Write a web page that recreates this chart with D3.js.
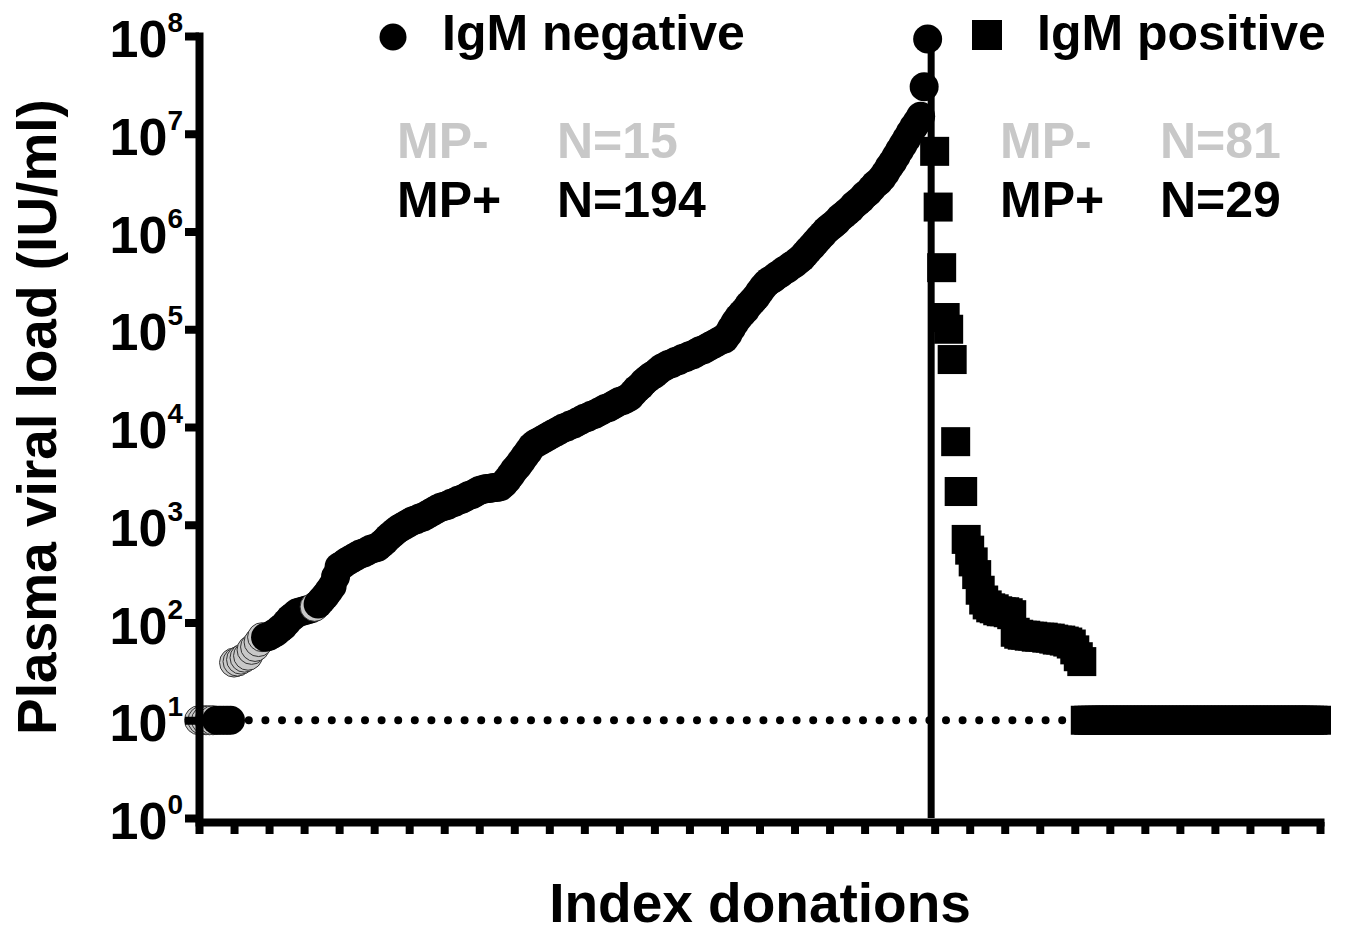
<!DOCTYPE html>
<html>
<head>
<meta charset="utf-8">
<script src="https://cdn.jsdelivr.net/npm/d3@7"></script>
<style>
body { margin: 0; background: #fff; }
svg text { font-family: "Liberation Sans", Arial, sans-serif; font-weight: bold; }
</style>
</head>
<body>
<svg id="chart" width="1345" height="936"></svg>
<script>
// log10 of plasma viral load (IU/ml), sorted, IgM negative index donations
var igmNegLog = [
  1, 1, 1, 1, 1, 1, 1, 1, 1, 1,
  1.59, 1.60, 1.62, 1.64, 1.66, 1.72, 1.75, 1.80, 1.85, 1.85,
  1.86, 1.88, 1.90, 1.93, 1.96, 2.00, 2.04, 2.07, 2.10, 2.11,
  2.12, 2.13, 2.14, 2.16, 2.19, 2.23, 2.27, 2.32, 2.37, 2.47,
  2.57, 2.59, 2.62, 2.64, 2.66, 2.68, 2.70, 2.71, 2.73, 2.75,
  2.76, 2.77, 2.80, 2.83, 2.87, 2.90, 2.93, 2.96, 2.98, 3.00,
  3.02, 3.04, 3.05, 3.07, 3.08, 3.10, 3.12, 3.14, 3.16, 3.18,
  3.19, 3.20, 3.22, 3.23, 3.25, 3.26, 3.28, 3.30, 3.31, 3.33,
  3.35, 3.36, 3.37, 3.37, 3.38, 3.38, 3.39, 3.42, 3.46, 3.51,
  3.56, 3.60, 3.65, 3.70, 3.75, 3.80, 3.83, 3.85, 3.87, 3.89,
  3.91, 3.93, 3.95, 3.97, 3.99, 4.00, 4.02, 4.03, 4.05, 4.07,
  4.09, 4.10, 4.12, 4.13, 4.15, 4.17, 4.19, 4.20, 4.22, 4.24,
  4.26, 4.27, 4.29, 4.31, 4.35, 4.39, 4.42, 4.46, 4.49, 4.52,
  4.54, 4.57, 4.60, 4.62, 4.64, 4.65, 4.67, 4.68, 4.70, 4.71,
  4.73, 4.74, 4.76, 4.78, 4.79, 4.81, 4.83, 4.85, 4.87, 4.89,
  4.90, 4.95, 5.01, 5.07, 5.12, 5.16, 5.20, 5.25, 5.29, 5.33,
  5.38, 5.43, 5.47, 5.50, 5.52, 5.55, 5.57, 5.60, 5.62, 5.65,
  5.67, 5.70, 5.73, 5.77, 5.81, 5.85, 5.89, 5.93, 5.97, 6.01,
  6.04, 6.07, 6.10, 6.14, 6.17, 6.20, 6.23, 6.27, 6.30, 6.33,
  6.37, 6.40, 6.44, 6.48, 6.51, 6.55, 6.60, 6.66, 6.71, 6.77,
  6.83, 6.89, 6.95, 7.01, 7.07, 7.12, 7.18, 7.48, 7.97
];
// which of those were minipool negative (drawn grey)
var igmNegGrey = [0, 1, 2, 3, 4, 10, 11, 12, 13, 14, 15, 16, 17, 18, 33];

// log10 viral load, IgM positive index donations
var igmPosLog = [
  6.82, 6.25, 5.63, 5.12, 5.00, 4.69, 3.85, 3.34, 3.34, 2.85,
  2.74, 2.62, 2.49, 2.33, 2.23, 2.18, 2.15, 2.14, 2.12, 2.11,
  2.11, 2.10, 2.08, 1.90, 1.88, 1.87, 1.87, 1.86, 1.86, 1.85,
  1.85, 1.85, 1.84, 1.84, 1.83, 1.82, 1.82, 1.81, 1.80, 1.78,
  1.72, 1.65, 1.60, 1, 1, 1, 1, 1, 1, 1,
  1, 1, 1, 1, 1, 1, 1, 1, 1, 1,
  1, 1, 1, 1, 1, 1, 1, 1, 1, 1,
  1, 1, 1, 1, 1, 1, 1, 1, 1, 1,
  1, 1, 1, 1, 1, 1, 1, 1, 1, 1,
  1, 1, 1, 1, 1, 1, 1, 1, 1, 1,
  1, 1, 1, 1, 1, 1, 1, 1, 1, 1
];
var posStart = 210;   // first index of IgM positive group
var splitAt = 209;    // divider between the groups
var lod = 10;         // dotted line

var xTicks = [0, 10, 20, 30, 40, 50, 60, 70, 80, 90, 100, 110, 120, 130, 140, 150, 160,
  170, 180, 190, 200, 210, 220, 230, 240, 250, 260, 270, 280, 290, 300, 310, 320];
var yExps = [0, 1, 2, 3, 4, 5, 6, 7, 8];

var groupLabels = ['IgM negative', 'IgM positive'];
var mpLabels = ['MP-', 'MP+'];
var negCounts = ['N=15', 'N=194'];
var posCounts = ['N=81', 'N=29'];

var grey = '#c8c8c8';
var svg = d3.select('#chart');

var x = d3.scaleLinear().domain([0, 320]).range([199, 1320]);
var y = d3.scaleLog().domain([1, 1e8]).range([818, 36]);

// dotted reference line
svg.append('line')
  .attr('x1', x(0)).attr('x2', x(320))
  .attr('y1', y(lod)).attr('y2', y(lod))
  .attr('stroke', '#000')
  .attr('stroke-width', 8)
  .attr('stroke-linecap', 'round')
  .attr('stroke-dasharray', '0 16.6');

var negData = igmNegLog.map(function(v, i) {
  return { i: i, v: v, grey: igmNegGrey.indexOf(i) >= 0 };
});

svg.selectAll('.neg')
  .data(negData)
  .enter()
  .append('circle')
  .attr('class', 'neg')
  .attr('cx', function(d) { return x(d.i); })
  .attr('cy', function(d) { return y(Math.pow(10, d.v)); })
  .attr('r', 14.5)
  .attr('fill', function(d) { return d.grey ? grey : '#000'; })
  .attr('stroke', function(d) { return d.grey ? '#333' : 'none'; })
  .attr('stroke-width', 1);

var sq = 29;
svg.selectAll('.pos')
  .data(igmPosLog)
  .enter()
  .append('rect')
  .attr('class', 'pos')
  .attr('x', function(d, j) { return x(posStart + j) - sq / 2; })
  .attr('y', function(d) { return y(Math.pow(10, d)) - sq / 2; })
  .attr('width', sq)
  .attr('height', sq)
  .attr('fill', '#000');

// divider
svg.append('line')
  .attr('x1', x(splitAt)).attr('x2', x(splitAt))
  .attr('y1', y(1e8)).attr('y2', y(1))
  .attr('stroke', '#000')
  .attr('stroke-width', 7);

// axes
var xAxis = svg.append('g')
  .attr('transform', 'translate(0,822)')
  .call(d3.axisBottom(x).tickValues(xTicks).tickSize(12).tickSizeOuter(0).tickFormat(''));
xAxis.select('.domain').attr('stroke-width', 8).attr('stroke-linecap', 'square');
xAxis.selectAll('.tick line').attr('stroke-width', 8);

var yAxis = svg.append('g')
  .attr('transform', 'translate(199,0)')
  .call(d3.axisLeft(y).tickValues(yExps.map(function(e) { return Math.pow(10, e); }))
    .tickSize(14).tickSizeOuter(0).tickFormat(''));
yAxis.select('.domain').attr('stroke-width', 8).attr('stroke-linecap', 'square');
yAxis.selectAll('.tick line').attr('stroke-width', 8);

// y tick labels 10^n
yExps.forEach(function(e) {
  var t = svg.append('text')
    .attr('x', 183)
    .attr('y', y(Math.pow(10, e)) + 21)
    .attr('text-anchor', 'end');
  t.append('tspan').attr('font-size', 52).text('10');
  t.append('tspan').attr('font-size', 28).attr('dy', -25).text(e);
});

// axis titles
svg.append('text')
  .attr('x', 760).attr('y', 922)
  .attr('text-anchor', 'middle')
  .attr('font-size', 55)
  .text('Index donations');

svg.append('text')
  .attr('transform', 'translate(56,417) rotate(-90)')
  .attr('text-anchor', 'middle')
  .attr('font-size', 55)
  .text('Plasma viral load (IU/ml)');

// legend
svg.append('circle').attr('cx', 393).attr('cy', 37).attr('r', 13.5).attr('fill', '#000');
svg.append('text').attr('x', 442).attr('y', 50).attr('font-size', 50).text(groupLabels[0]);
svg.append('rect').attr('x', 972).attr('y', 20).attr('width', 30).attr('height', 30).attr('fill', '#000');
svg.append('text').attr('x', 1037).attr('y', 50).attr('font-size', 50).text(groupLabels[1]);

// MP counts
[[397, 557, negCounts], [1000, 1160, posCounts]].forEach(function(g) {
  mpLabels.forEach(function(lab, k) {
    var col = k === 0 ? grey : '#000';
    var by = k === 0 ? 158 : 217;
    svg.append('text').attr('x', g[0]).attr('y', by).attr('font-size', 50).attr('fill', col).text(lab);
    svg.append('text').attr('x', g[1]).attr('y', by).attr('font-size', 50).attr('fill', col).text(g[2][k]);
  });
});
</script>
</body>
</html>
